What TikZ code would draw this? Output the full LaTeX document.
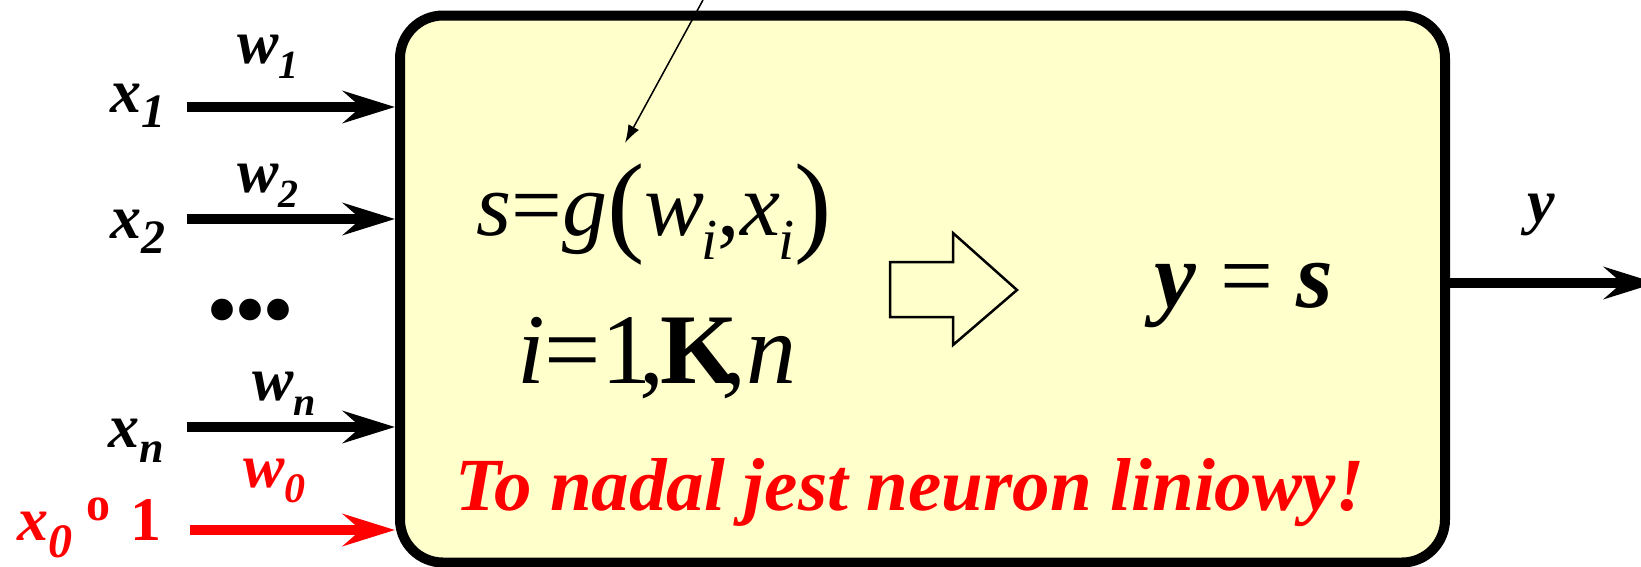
\documentclass[tikz,border=0pt]{standalone}
\usepackage{fontspec}
\setmainfont{Liberation Serif}
\usetikzlibrary{arrows.meta}
\definecolor{boxfill}{HTML}{FFFFCC}
\newcommand{\lowsub}[3]{\raisebox{-#1}{\fontsize{#2}{#2}\selectfont #3}}
\tikzset{
  lbl/.style={inner sep=0pt,anchor=base west,font=\fontsize{62}{62}\selectfont\bfseries\itshape},
  formula/.style={inner sep=0pt,anchor=base},
  inarrow/.style={line width=10pt,-{Stealth[length=52pt,width=32pt,inset=18pt]}},
}

\begin{document}
\begin{tikzpicture}[x=1pt,y=-1pt]
\useasboundingbox (0,0) rectangle (1641,566);
\node[draw,line width=10pt,fill=boxfill,rounded corners=43pt,minimum width=1045pt,minimum height=547pt,inner sep=0pt] (neuron) at (922.5,289) {};
\coordinate (in1) at (187,107);
\coordinate (in2) at (187,219);
\coordinate (inn) at (187,427);
\coordinate (in0) at (190,530);
\coordinate (out) at (1656,283);
\draw[inarrow] (in1) -- (in1 -| neuron.west);
\draw[inarrow] (in2) -- (in2 -| neuron.west);
\draw[inarrow] (inn) -- (inn -| neuron.west);
\draw[inarrow,red] (in0) -- (in0 -| neuron.west);
\draw[inarrow] (neuron.east |- out) -- (out);
\node[lbl] (x1) at (110,112) {x\lowsub{15pt}{48pt}{1}};
\node[lbl] (x2) at (110,238) {x\lowsub{15pt}{48pt}{2}};
\node[lbl] (xn) at (108,447) {x\lowsub{15pt}{44pt}{n}};
\node[lbl,red] (x0) at (17,540) {x\lowsub{17pt}{48pt}{0}\hspace{14pt}\raisebox{20pt}{\upshape\fontsize{48}{48}\selectfont o}\hspace{20pt}\upshape 1};
\node[lbl] (w1) at (237,63) {w\lowsub{15pt}{40pt}{1}};
\node[lbl] (w2) at (237,192) {w\lowsub{15pt}{40pt}{2}};
\node[lbl] (wn) at (252,400) {w\lowsub{15pt}{40pt}{n}};
\node[lbl,red] (w0) at (243,487) {w\lowsub{15pt}{42pt}{0}};
\node[inner sep=0pt,font=\fontsize{80}{80}\selectfont\bfseries] (dots) at (251,318) {•••};
\coordinate (ptrA) at (703,0);
\coordinate (ptrB) at (625,143);
\draw[line width=1.5pt,-{Latex[length=18pt,width=12pt]}] (ptrA) -- (ptrB);
\node[formula,font=\fontsize{90}{90}\selectfont] (sum) at (654,235)
  {\textit{s}=\textit{g}\raisebox{-6pt}{\fontsize{112}{112}\selectfont(}\textit{w}\kern-3pt\lowsub{24pt}{58pt}{\textit{i}},\textit{x}\kern-2pt\lowsub{24pt}{58pt}{\textit{i}}\raisebox{-6pt}{\fontsize{112}{112}\selectfont)}};
\node[formula,font=\fontsize{100}{100}\selectfont] (range) at (657,383)
  {\textit{i}=1\kern-12pt,\kern-4pt\textbf{K}\kern-16pt,\textit{n}};
\draw[line width=2.5pt,fill=boxfill] (890,262) -- (953,262) -- (953,233) -- (1017,290) -- (953,345) -- (953,317) -- (890,317) -- cycle;
\node[formula,font=\fontsize{94}{94}\selectfont\bfseries\itshape] (act) at (1244,307) {y {\mdseries\upshape =} s};
\node[lbl] (yout) at (1527,222) {y};
\node[formula,red,font=\fontsize{75}{75}\selectfont\bfseries\itshape] (note) at (910,510) {To nadal jest neuron liniowy!};
\end{tikzpicture}
\end{document}
